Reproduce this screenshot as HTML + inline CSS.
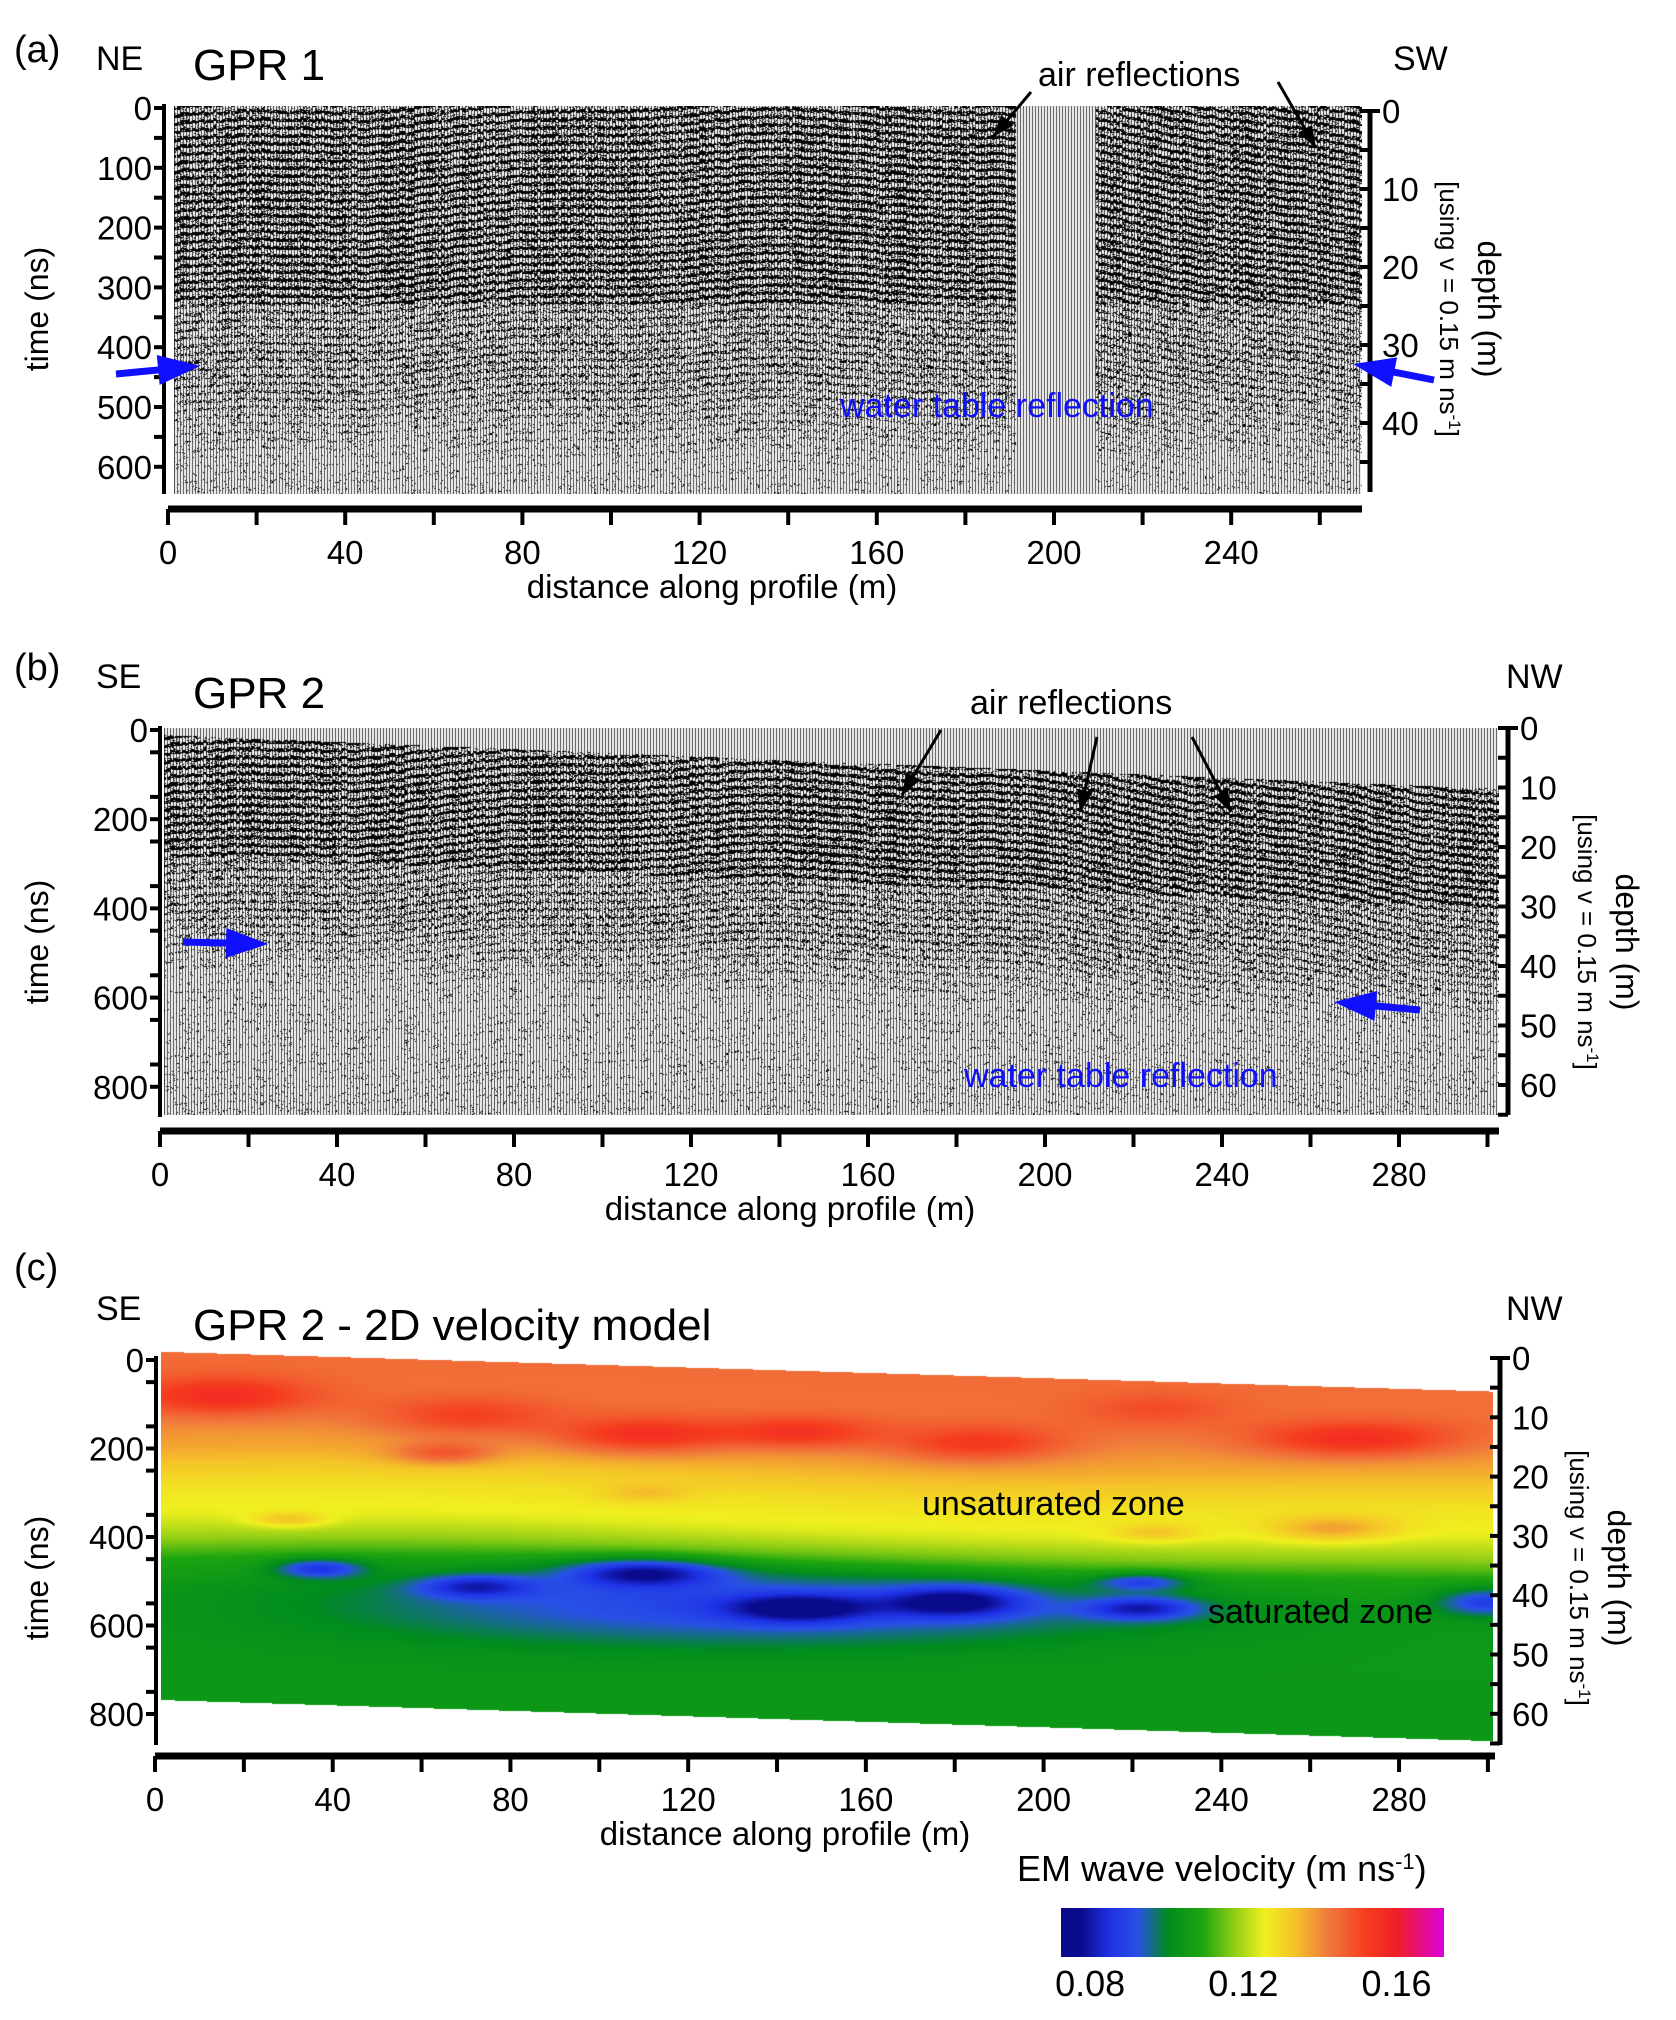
<!DOCTYPE html>
<html><head><meta charset="utf-8"><style>
body{margin:0;background:#fff;}
#root{position:relative;width:1676px;height:2020px;overflow:hidden;background:#fff;font-family:"Liberation Sans",sans-serif;}
canvas{position:absolute;}
svg{position:absolute;left:0;top:0;}
svg text{font-family:"Liberation Sans",sans-serif;}
</style></head><body>
<div id="root">
<canvas id="ca" width="1188" height="388" style="left:174px;top:106px"></canvas>
<canvas id="cb" width="1335" height="387" style="left:164px;top:728px"></canvas>
<canvas id="cc" width="1332" height="392" style="left:161px;top:1350px"></canvas>
<svg id="sv" width="1676" height="2020"></svg>
</div>
<script>
// ---- data arrays ----
const timeTicksA=[0,100,200,300,400,500,600];
const depthTicksA=[0,10,20,30,40];
const distTicksA=[0,40,80,120,160,200,240];
const timeTicksB=[0,200,400,600,800];
const depthTicksB=[0,10,20,30,40,50,60];
const distTicksB=[0,40,80,120,160,200,240,280];
const baseT=[0,100,200,280,350,400,450,520,700,950];
const baseV=[0.147,0.146,0.139,0.131,0.127,0.121,0.112,0.108,0.107,0.107];
const blobD=[15,70,110,145,185,270,65,225,37,72,110,145,180,222,222,300,135,30,110,265,225];
const blobT=[80,130,170,165,190,180,210,110,470,510,480,560,545,500,560,545,550,360,300,380,390];
const blobA=[0.013,0.01,0.016,0.013,0.013,0.015,0.012,0.006,-0.02,-0.018,-0.024,-0.02,-0.022,-0.016,-0.02,-0.018,-0.016,0.01,0.006,0.012,0.008];
const blobSD=[14,14,14,12,14,16,8,12,7,9,12,11,11,7,9,8,65,6,7,10,7];
const blobST=[30,30,28,25,28,28,18,25,15,18,22,22,24,14,18,22,65,12,15,20,14];
const cbTicks=[0.08,0.12,0.16];

const svgNS="http://www.w3.org/2000/svg";
const sv=document.getElementById('sv');
function el(tag,attrs,txt){const e=document.createElementNS(svgNS,tag);for(const k in attrs)e.setAttribute(k,attrs[k]);if(txt!==undefined)e.textContent=txt;sv.appendChild(e);return e;}

// ---- radargram texture ----
function hash(a,b){let h=(a*374761393+b*668265263)|0;h=(h^(h>>>13))*1274126177;h=h^(h>>>16);return ((h>>>0)%10000)/10000;}
function radar(id,tPerPx,t0fn,gap,pxPerM,bandLen){
  const c=document.getElementById(id),ctx=c.getContext('2d'),W=c.width,H=c.height;
  const img=ctx.createImageData(W,H),d=img.data;
  for(let x=0;x<W;x++){
    const tr=Math.floor(x/3),sub=x%3,dm=x/pxPerM;
    const inGap=gap&&dm>gap[0]&&dm<gap[1];
    const ph=Math.sin(tr*0.07)*3+hash(tr,7)*2.5;
    for(let y=0;y<H;y++){
      const t=y*tPerPx-t0fn(dm);
      let v=255;
      if(sub===0)v=60;
      if(!inGap&&t>=0){
        let amp=t<bandLen?1:(t<bandLen+120?0.6:Math.max(0.12,0.6-(t-bandLen-120)/300));
        const s=Math.sin((y+ph+tr*0.15*Math.sin(tr*0.01))*2*Math.PI/8);
        const n=hash(x,y);
        if(s>0.55-amp*0.3&&n<amp*0.9)v=0;
        else if(n<amp*0.15)v=0;
      }
      const i=(y*W+x)*4;d[i]=d[i+1]=d[i+2]=v;d[i+3]=255;
    }
  }
  ctx.putImageData(img,0,0);
}
radar('ca',1/0.598,()=>0,[190,208],4.43,330);
radar('cb',1/0.446,(dm)=>15+dm*0.4,null,4.425,270);

// ---- velocity model ----
function interp(xs,ys,x){if(x<=xs[0])return ys[0];for(let i=1;i<xs.length;i++){if(x<=xs[i]){const f=(x-xs[i-1])/(xs[i]-xs[i-1]);return ys[i-1]+f*(ys[i]-ys[i-1]);}}return ys[ys.length-1];}
const cmV=[0.08,0.088,0.095,0.103,0.112,0.12,0.128,0.136,0.145,0.155,0.163,0.175];
const cmC=[[10,10,140],[30,50,230],[40,80,230],[0,140,30],[30,165,15],[140,205,20],[240,240,30],[245,195,40],[240,120,60],[245,60,30],[240,30,40],[220,0,220]];
function vcol(v){let i=1;while(i<cmV.length-1&&v>cmV[i])i++;const f=Math.max(0,Math.min(1,(v-cmV[i-1])/(cmV[i]-cmV[i-1])));const a=cmC[i-1],b=cmC[i];return [a[0]+f*(b[0]-a[0]),a[1]+f*(b[1]-a[1]),a[2]+f*(b[2]-a[2])];}
(function(){
  const c=document.getElementById('cc'),ctx=c.getContext('2d'),W=c.width,H=c.height;
  const img=ctx.createImageData(W,H),d=img.data;
  const pxPerM=4.443,ox=155-161,tpx=0.4425,oy=1360-1350;
  for(let x=0;x<W;x++){
    const dm=(x-ox)/pxPerM;
    const topT=-20+dm*0.3, botT=767+dm*0.31;
    for(let y=0;y<H;y++){
      const t=(y-oy)/tpx;
      const i=(y*W+x)*4;
      if(t<topT||t>botT){d[i]=d[i+1]=d[i+2]=255;d[i+3]=255;continue;}
      let v=interp(baseT,baseV,t-dm*0.2+12*Math.sin(dm/40));
      for(let k=0;k<blobD.length;k++){const a=(dm-blobD[k])/blobSD[k],b=(t-blobT[k])/blobST[k];v+=blobA[k]*Math.exp(-(a*a+b*b)/2);}
      const col=vcol(v);d[i]=col[0];d[i+1]=col[1];d[i+2]=col[2];d[i+3]=255;
    }
  }
  ctx.putImageData(img,0,0);
})();

// ---- axes ----
function axes(o){
  el('line',{x1:o.lx,y1:o.ty0-4,x2:o.lx,y2:o.lyEnd,stroke:'#000','stroke-width':4,});
  o.tTicks.forEach(t=>{const y=o.ty0+t*o.tk;el('line',{x1:o.lx-10,y1:y,x2:o.lx,y2:y,stroke:'#000','stroke-width':4});
    el('text',{x:o.lx-12,y:y+12,'font-size':33,'text-anchor':'end',},t);});
  for(let t=o.tTicks[0]+o.tStep/2;t<o.tTicks[o.tTicks.length-1]+o.tStep/2;t+=o.tStep){const y=o.ty0+t*o.tk;if(y<o.lyEnd)el('line',{x1:o.lx-10,y1:y,x2:o.lx,y2:y,stroke:'#000','stroke-width':4});}
  el('line',{x1:o.rx,y1:o.dy0-2,x2:o.rx,y2:o.ryEnd,stroke:'#000','stroke-width':5,});
  el('line',{x1:o.rx,y1:o.dy0,x2:o.rx+10,y2:o.dy0,stroke:'#000','stroke-width':4});
  o.dTicks.forEach(dd=>{const y=o.dy0+dd*o.dk;el('line',{x1:o.rx-10,y1:y,x2:o.rx,y2:y,stroke:'#000','stroke-width':4});
    el('text',{x:o.rx+12,y:y+12,'font-size':33,},dd);});
  for(let dd=5;dd<o.dTicks[o.dTicks.length-1]+6;dd+=10){const y=o.dy0+dd*o.dk;if(y<o.ryEnd)el('line',{x1:o.rx-10,y1:y,x2:o.rx,y2:y,stroke:'#000','stroke-width':4});}
  el('line',{x1:o.xx0,y1:o.xy,x2:o.xEnd,y2:o.xy,stroke:'#000','stroke-width':7,});
  for(let dm=0;dm*o.xk+o.xx0<=o.xEnd+1;dm+=20){const x=o.xx0+dm*o.xk;el('line',{x1:x,y1:o.xy,x2:x,y2:o.xy+16,stroke:'#000','stroke-width':4});}
  o.xTicks.forEach(dm=>{const x=o.xx0+dm*o.xk;el('text',{x:x,y:o.xy+55,'font-size':33,'text-anchor':'middle',},dm);});
  el('text',{x:o.xlx,y:o.xy+89,'font-size':33,'text-anchor':'middle',},'distance along profile (m)');
  el('text',{x:0,y:0,'font-size':32,'text-anchor':'middle',transform:`translate(48,${o.tly}) rotate(-90)`,},'time (ns)');
  el('text',{x:0,y:0,'font-size':32,'text-anchor':'middle',transform:`translate(${o.rx+108},${o.tly}) rotate(90)`,},'depth (m)');
  const u=el('text',{x:0,y:0,'font-size':26,'text-anchor':'middle',transform:`translate(${o.rx+70},${o.tly}) rotate(90)`,},'[using v = 0.15 m ns');
  const sp=document.createElementNS(svgNS,'tspan');sp.setAttribute('dy','-9');sp.setAttribute('font-size','17');sp.textContent='-1';u.appendChild(sp);
  const sp2=document.createElementNS(svgNS,'tspan');sp2.setAttribute('dy','9');sp2.textContent=']';u.appendChild(sp2);
}
axes({lx:164,ty0:108,tk:0.598,lyEnd:494,tTicks:timeTicksA,tStep:100,rx:1370,dy0:111,dk:7.8,ryEnd:492,dTicks:depthTicksA,xx0:168,xk:4.43,xy:509,xEnd:1362,xTicks:distTicksA,xlx:712,tly:309});
axes({lx:160,ty0:730,tk:0.446,lyEnd:1117,tTicks:timeTicksB,tStep:100,rx:1508,dy0:728,dk:5.95,ryEnd:1115,dTicks:depthTicksB,xx0:160,xk:4.425,xy:1131,xEnd:1499,xTicks:distTicksB,xlx:790,tly:942});
axes({lx:156,ty0:1360,tk:0.4425,lyEnd:1745,tTicks:timeTicksB,tStep:100,rx:1500,dy0:1358,dk:5.93,ryEnd:1745,dTicks:depthTicksB,xx0:155,xk:4.443,xy:1756,xEnd:1495,xTicks:distTicksB,xlx:785,tly:1578});

// ---- labels ----
function T(x,y,s,txt,name,fill){el('text',{x:x,y:y,'font-size':s,style:'fill:'+(fill||'#000'),},txt);}
T(14,62,38,'(a)','panel-a-label');T(96,70,34,'NE','ne-label');T(193,80,44,'GPR 1','gpr1-title');T(1393,70,34,'SW','sw-label');
T(1038,86,34,'air reflections','air-reflections-label-a');
T(14,680,38,'(b)','panel-b-label');T(96,688,34,'SE','se-label-b');T(193,708,44,'GPR 2','gpr2-title');T(1506,688,34,'NW','nw-label-b');
T(970,714,34,'air reflections','air-reflections-label-b');
T(14,1280,38,'(c)','panel-c-label');T(96,1320,34,'SE','se-label-c');T(193,1340,44,'GPR 2 - 2D velocity model','velocity-title');T(1506,1320,34,'NW','nw-label-c');
T(840,417,34,'water table reflection','water-table-label-a','#1010ff');
T(964,1087,34,'water table reflection','water-table-label-b','#1010ff');
T(922,1515,34,'unsaturated zone','unsaturated-zone-label');
T(1208,1623,34,'saturated zone','saturated-zone-label');
const em=el('text',{x:1017,y:1881,'font-size':36,},'EM wave velocity (m ns');
const es=document.createElementNS(svgNS,'tspan');es.setAttribute('dy','-12');es.setAttribute('font-size','22');es.textContent='-1';em.appendChild(es);
const es2=document.createElementNS(svgNS,'tspan');es2.setAttribute('dy','12');es2.textContent=')';em.appendChild(es2);

// arrows
function blackArrow(x1,y1,x2,y2,name){el('line',{x1:x1,y1:y1,x2:x2,y2:y2,stroke:'#000','stroke-width':3,});
  const a=Math.atan2(y2-y1,x2-x1),L=22,w=8;el('polygon',{points:`${x2},${y2} ${x2-L*Math.cos(a)+w*Math.sin(a)},${y2-L*Math.sin(a)-w*Math.cos(a)} ${x2-L*Math.cos(a)-w*Math.sin(a)},${y2-L*Math.sin(a)+w*Math.cos(a)}`,fill:'#000'});}
function blueArrow(x1,y1,x2,y2,name){const a=Math.atan2(y2-y1,x2-x1),L=42,w=15;
  el('line',{x1:x1,y1:y1,x2:x2-L*0.8*Math.cos(a),y2:y2-L*0.8*Math.sin(a),stroke:'#1010ff','stroke-width':7,});
  el('polygon',{points:`${x2},${y2} ${x2-L*Math.cos(a)+w*Math.sin(a)},${y2-L*Math.sin(a)-w*Math.cos(a)} ${x2-L*Math.cos(a)-w*Math.sin(a)},${y2-L*Math.sin(a)+w*Math.cos(a)}`,fill:'#1010ff'});}
blackArrow(1031,92,993,137,'air-arrow-a1');blackArrow(1278,82,1316,148,'air-arrow-a2');
blackArrow(941,730,902,795,'air-arrow-b1');blackArrow(1097,737,1080,812,'air-arrow-b2');blackArrow(1192,737,1231,812,'air-arrow-b3');
blueArrow(116,374,200,366,'water-arrow-a-left');blueArrow(1434,380,1353,364,'water-arrow-a-right');
blueArrow(183,942,268,944,'water-arrow-b-left');blueArrow(1420,1010,1334,1002,'water-arrow-b-right');

// colorbar
const g=el('linearGradient',{id:'cbg',x1:0,x2:1,y1:0,y2:0});
const cbMin=0.075,cbMax=0.175;
cmV.forEach((v,i)=>{const s=document.createElementNS(svgNS,'stop');s.setAttribute('offset',Math.max(0,(v-cbMin)/(cbMax-cbMin)));s.setAttribute('stop-color',`rgb(${cmC[i].join(',')})`);g.appendChild(s);});
const defs=document.createElementNS(svgNS,'defs');defs.appendChild(g);sv.appendChild(defs);
el('rect',{x:1061,y:1908,width:383,height:49,fill:'url(#cbg)',});
cbTicks.forEach(v=>{const x=1061+(v-cbMin)/(cbMax-cbMin)*383;el('text',{x:x+10,y:1996,'font-size':36,'text-anchor':'middle',},v.toFixed(2));});
</script>
</body></html>
